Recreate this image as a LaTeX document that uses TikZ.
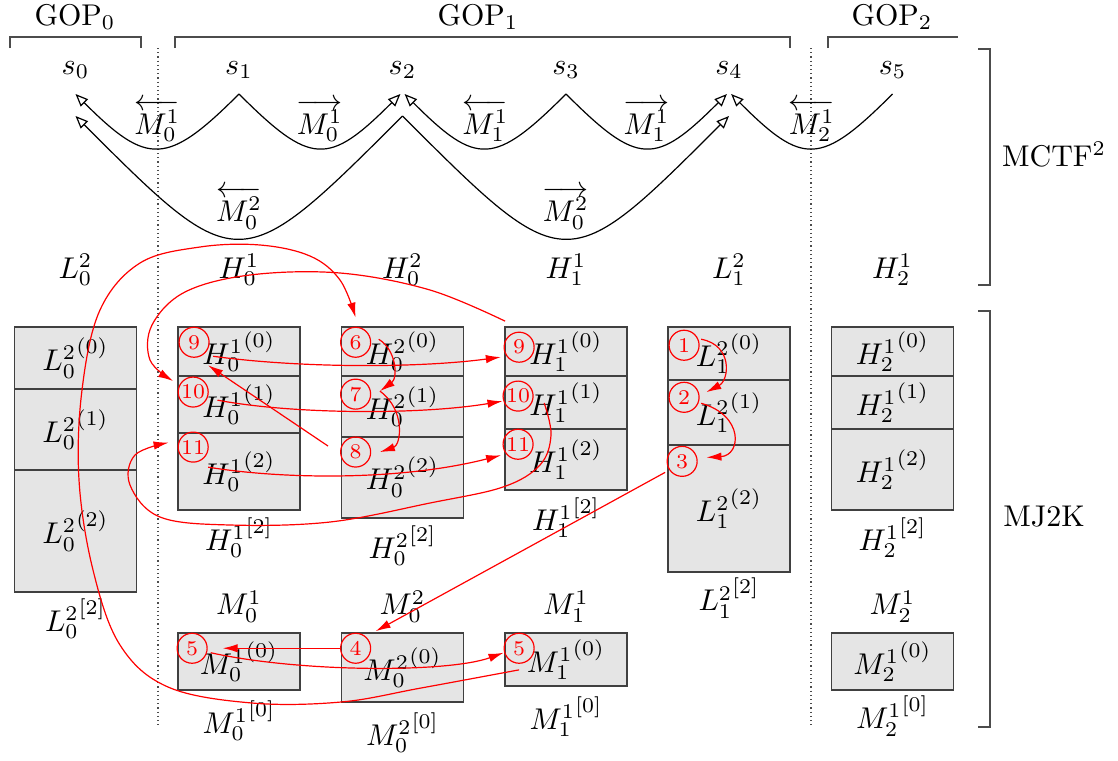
\documentclass[tikz,border=0pt]{standalone}
\usepackage{amsmath}
\usetikzlibrary{positioning,calc,arrows.meta,backgrounds}

\begin{document}
\begin{tikzpicture}[x=0.3333pt,y=-0.3333pt,
  seg/.style={draw=black!75,line width=0.5pt,minimum width=40.7pt,inner sep=0pt,outer sep=0pt},
  num/.style={circle,draw=red,text=red,font=\scriptsize,minimum size=10pt,inner sep=0pt},
  motion/.style={-{Triangle[open,length=4.2pt,width=3.4pt]}},
  order/.style={red,-{Latex[length=5pt,width=2.8pt]}},
  bracket/.style={draw=black!70},
  node distance=0pt]

 \useasboundingbox (0,0) rectangle (1118,760);

 % groups of pictures
 \node (gop0) at (75,17) {$\mathrm{GOP}_0$};
 \node (gop1) at (478,17) {$\mathrm{GOP}_1$};
 \node (gop2) at (892,17) {$\mathrm{GOP}_2$};
 \draw[bracket] (10,48) -- (10,37) -- (141,37) -- (141,48);
 \draw[bracket] (175,48) -- (175,37) -- (790,37) -- (790,48);
 \draw[bracket] (828,48) -- (828,37) -- (958,37);
 \draw[black!70,dash pattern=on 0.4pt off 1pt] (158,48) -- (158,727);
 \draw[black!70,dash pattern=on 0.4pt off 1pt] (811,48) -- (811,727);

 % frames
 \node (s0) at (75.5,70) {$s_0$};
 \node (s1) at (239,70) {$s_1$};
 \node (s2) at (402.5,70) {$s_2$};
 \node (s3) at (566,70) {$s_3$};
 \node (s4) at (729,70) {$s_4$};
 \node (s5) at (892.5,70) {$s_5$};
 \coordinate (t0) at ($(s0)+(0,24)$);
 \coordinate (t1) at ($(s1)+(0,24)$);
 \coordinate (t2) at ($(s2)+(0,24)$);
 \coordinate (t3) at ($(s3)+(0,24)$);
 \coordinate (t4) at ($(s4)+(0,24)$);
 \coordinate (t5) at ($(s5)+(0,24)$);
 \coordinate (b0) at ($(s0)+(0,46)$);
 \coordinate (b2) at ($(s2)+(0,46)$);
 \coordinate (b4) at ($(s4)+(0,46)$);

 \draw[motion] (t1) .. controls +(-72,72) and +(72,72) .. (t0) node[midway,above=-1.5pt] (m01l) {$\overleftarrow{M_0^1}$};
 \draw[motion] (t1) .. controls +(72,72) and +(-72,72) .. ([xshift=-0.7pt]t2) node[midway,above=-1.5pt] (m01r) {$\overrightarrow{M_0^1}$};
 \draw[motion] (t3) .. controls +(-72,72) and +(72,72) .. ([xshift=0.7pt]t2) node[midway,above=-1.5pt] (m11l) {$\overleftarrow{M_1^1}$};
 \draw[motion] (t3) .. controls +(72,72) and +(-72,72) .. ([xshift=-0.7pt]t4) node[midway,above=-1.5pt] (m11r) {$\overrightarrow{M_1^1}$};
 \draw[motion] (t5) .. controls +(-72,72) and +(72,72) .. ([xshift=0.7pt]t4) node[midway,above=-1.5pt] (m21l) {$\overleftarrow{M_2^1}$};
 \draw[motion] (b2) .. controls +(-163,163) and +(163,163) .. (b0) node[midway,above=-0.5pt] (m02l) {$\overleftarrow{M_0^2}$};
 \draw[motion] (b2) .. controls +(163,163) and +(-163,163) .. (b4) node[midway,above=-0.5pt] (m02r) {$\overrightarrow{M_0^2}$};

 % subbands
 \node (l02) at (75.5,270) {$L_0^2$};
 \node (h01) at (239,270) {$H_0^1$};
 \node (h02) at (402.5,270) {$H_0^2$};
 \node (h11) at (566,270) {$H_1^1$};
 \node (l12) at (729,270) {$L_1^2$};
 \node (h21) at (892.5,270) {$H_2^1$};

 \draw[bracket] (978,49) -- (990,49) -- (990,285) -- (978,285);
 \node (mctf) at (1054,155) {MCTF$^2$};
 \draw[bracket] (978,311) -- (990,311) -- (990,727) -- (978,727);
 \node (mj2k) at (1044,517) {MJ2K};

 % MJ2K codestreams
 \node[seg,anchor=north,minimum height=20.7pt] (l02a) at (75.5,327) {${L_0^2}^{(0)}$};
 \node[seg,below=of l02a,minimum height=27pt] (l02b) {${L_0^2}^{(1)}$};
 \node[seg,below=of l02b,minimum height=40.7pt] (l02c) {${L_0^2}^{(2)}$};
 \node[below=-1.5pt of l02c] (l02lab) {${L_0^2}^{[2]}$};

 \node[seg,anchor=north,minimum height=16.3pt] (h01a) at (239,327) {${H_0^1}^{(0)}$};
 \node[seg,below=of h01a,minimum height=19pt] (h01b) {${H_0^1}^{(1)}$};
 \node[seg,below=of h01b,minimum height=25.7pt] (h01c) {${H_0^1}^{(2)}$};
 \node[below=-1pt of h01c] (h01lab) {${H_0^1}^{[2]}$};

 \node[seg,anchor=north,minimum height=16.3pt] (h02a) at (402.5,327) {${H_0^2}^{(0)}$};
 \node[seg,below=of h02a,minimum height=20.3pt] (h02b) {${H_0^2}^{(1)}$};
 \node[seg,below=of h02b,minimum height=27pt] (h02c) {${H_0^2}^{(2)}$};
 \node[below=-1pt of h02c] (h02lab) {${H_0^2}^{[2]}$};

 \node[seg,anchor=north,minimum height=16.3pt] (h11a) at (566,327) {${H_1^1}^{(0)}$};
 \node[seg,below=of h11a,minimum height=17.7pt] (h11b) {${H_1^1}^{(1)}$};
 \node[seg,below=of h11b,minimum height=20.3pt] (h11c) {${H_1^1}^{(2)}$};
 \node[below=-1pt of h11c] (h11lab) {${H_1^1}^{[2]}$};

 \node[seg,anchor=north,minimum height=17.7pt] (l12a) at (729,327) {${L_1^2}^{(0)}$};
 \node[seg,below=of l12a,minimum height=21.7pt] (l12b) {${L_1^2}^{(1)}$};
 \node[seg,below=of l12b,minimum height=42.3pt] (l12c) {${L_1^2}^{(2)}$};
 \node[below=-1.5pt of l12c] (l12lab) {${L_1^2}^{[2]}$};

 \node[seg,anchor=north,minimum height=16.3pt] (h21a) at (892.5,327) {${H_2^1}^{(0)}$};
 \node[seg,below=of h21a,minimum height=17.7pt] (h21b) {${H_2^1}^{(1)}$};
 \node[seg,below=of h21b,minimum height=27pt] (h21c) {${H_2^1}^{(2)}$};
 \node[below=-1pt of h21c] (h21lab) {${H_2^1}^{[2]}$};

 % motion fields
 \node[seg,anchor=north,minimum height=19pt] (m01) at (239,633) {${M_0^1}^{(0)}$};
 \node[above=of m01] (m01top) {$M_0^1$};
 \node[below=of m01] (m01lab) {${M_0^1}^{[0]}$};
 \node[seg,anchor=north,minimum height=23pt] (m02) at (402.5,633) {${M_0^2}^{(0)}$};
 \node[above=of m02] (m02top) {$M_0^2$};
 \node[below=of m02] (m02lab) {${M_0^2}^{[0]}$};
 \node[seg,anchor=north,minimum height=17.7pt] (m11) at (566,633) {${M_1^1}^{(0)}$};
 \node[above=of m11] (m11top) {$M_1^1$};
 \node[below=of m11] (m11lab) {${M_1^1}^{[0]}$};
 \node[seg,anchor=north,minimum height=19pt] (m21) at (892.5,633) {${M_2^1}^{(0)}$};
 \node[above=of m21] (m21top) {$M_2^1$};
 \node[below=-1.5pt of m21] (m21lab) {${M_2^1}^{[0]}$};

 \begin{scope}[on background layer]
  \fill[black!10] (l02a.north west) rectangle (l02c.south east);
  \fill[black!10] (h01a.north west) rectangle (h01c.south east);
  \fill[black!10] (h02a.north west) rectangle (h02c.south east);
  \fill[black!10] (h11a.north west) rectangle (h11c.south east);
  \fill[black!10] (l12a.north west) rectangle (l12c.south east);
  \fill[black!10] (h21a.north west) rectangle (h21c.south east);
  \fill[black!10] (m01.north west) rectangle (m01.south east);
  \fill[black!10] (m02.north west) rectangle (m02.south east);
  \fill[black!10] (m11.north west) rectangle (m11.south east);
  \fill[black!10] (m21.north west) rectangle (m21.south east);
 \end{scope}

 % decoding order
 \node[num,below right=1.4pt and 1.7pt of h01a.north west] (n9a) {9};
 \node[num,below right=1.7pt and 1.4pt of h01b.north west] (n10a) {10};
 \node[num,below right=1.05pt and 1.4pt of h01c.north west] (n11a) {11};
 \node[num,below right=1.4pt and 1.05pt of h02a.north west] (n6) {6};
 \node[num,below right=2.4pt and 1.05pt of h02b.north west] (n7) {7};
 \node[num,below right=1.4pt and 1.05pt of h02c.north west] (n8) {8};
 \node[num,below right=3.05pt and 1.05pt of h11a.north west] (n9b) {9};
 \node[num,below right=3.05pt and 0.7pt of h11b.north west] (n10b) {10};
 \node[num,below right=1.4pt and 0.7pt of h11c.north west] (n11b) {11};
 \node[num,below right=2.4pt and 1.7pt of l12a.north west] (n1) {1};
 \node[num,below right=2.05pt and 1.7pt of l12b.north west] (n2) {2};
 \node[num,below right=1.7pt and 1.05pt of l12c.north west] (n3) {3};
 \node[num,below right=1.4pt and 1.05pt of m02.north west] (n4) {4};
 \node[num,below right=1.4pt and 1.05pt of m01.north west] (n5a) {5};
 \node[num,below right=1.4pt and 1.05pt of m11.north west] (n5b) {5};

 \draw[order] ([shift={(0.5pt,2pt)}]n1.east) .. controls +(32,6) and +(23,-12) .. ([shift={(2.2pt,1.7pt)}]n2.east);
 \draw[order] ([shift={(0.5pt,-2pt)}]n2.east) .. controls +(43,12) and +(35,-2) .. ([shift={(2.9pt,1.3pt)}]n3.east);
 \draw[order] ([xshift=-2pt]n3.south west) -- ([shift={(3pt,2pt)}]n4.north east);
 \draw[order] (n4.west) -- ([xshift=5pt]n5a.east);
 \draw[order] ([shift={(1pt,-1.5pt)}]n5a.east) .. controls +(91,20) and +(-55,20) .. ([yshift=-1.5pt]n5b.west);
 \draw[order] plot[smooth,tension=0.6] coordinates {([yshift=-2pt]n5b.south) (421,688) (341,702) (252,703) (168,687) (120,645) (93,570) (79,480) (82,390) (100,310) (140,263) (200,247) (260,245) (310,256) (340,280) ([yshift=3pt]n6.north)};
 \draw[order] ([shift={(2.5pt,1pt)}]n6.east) .. controls +(18,11) and +(18,-13) .. ([shift={(2.9pt,1pt)}]n7.east);
 \draw[order] ([shift={(2.9pt,1pt)}]n7.east) .. controls +(26,19) and +(21,-7) .. ([xshift=2.9pt]n8.east);
 \draw[order] ([shift={(-4pt,2pt)}]n8.west) -- ([shift={(1pt,-4pt)}]n9a.south east);
 \draw[order] ([shift={(2.7pt,-1pt)}]n9a.south east) .. controls +(88,12) and +(-82,11) .. ([shift={(-0.9pt,-3.3pt)}]n9b.west);
 \draw[order] plot[smooth,tension=0.6] coordinates {([shift={(-1pt,5pt)}]n9b.north west) (430,290) (340,273) (250,275) (185,292) (152,325) (150,360) ([xshift=-3pt]n10a.north west)};
 \draw[order] ([shift={(2.9pt,-2.7pt)}]n10a.east) .. controls +(74,14) and +(-84,14) .. ([yshift=-1.7pt]n10b.west);
 \draw[order] plot[smooth,tension=0.6] coordinates {([shift={(3.5pt,-2.3pt)}]n10b.east) (551,435) (540,465) (503,487) (430,503) (330,522) (230,525) (160,517) (130,485) (135,455) ([shift={(-3pt,1.5pt)}]n11a.west)};
 \draw[order] ([shift={(1.3pt,-3pt)}]n11a.south east) .. controls +(73,12) and +(-102,26) .. ([xshift=-2pt]n11b.south west);

\end{tikzpicture}
\end{document}
